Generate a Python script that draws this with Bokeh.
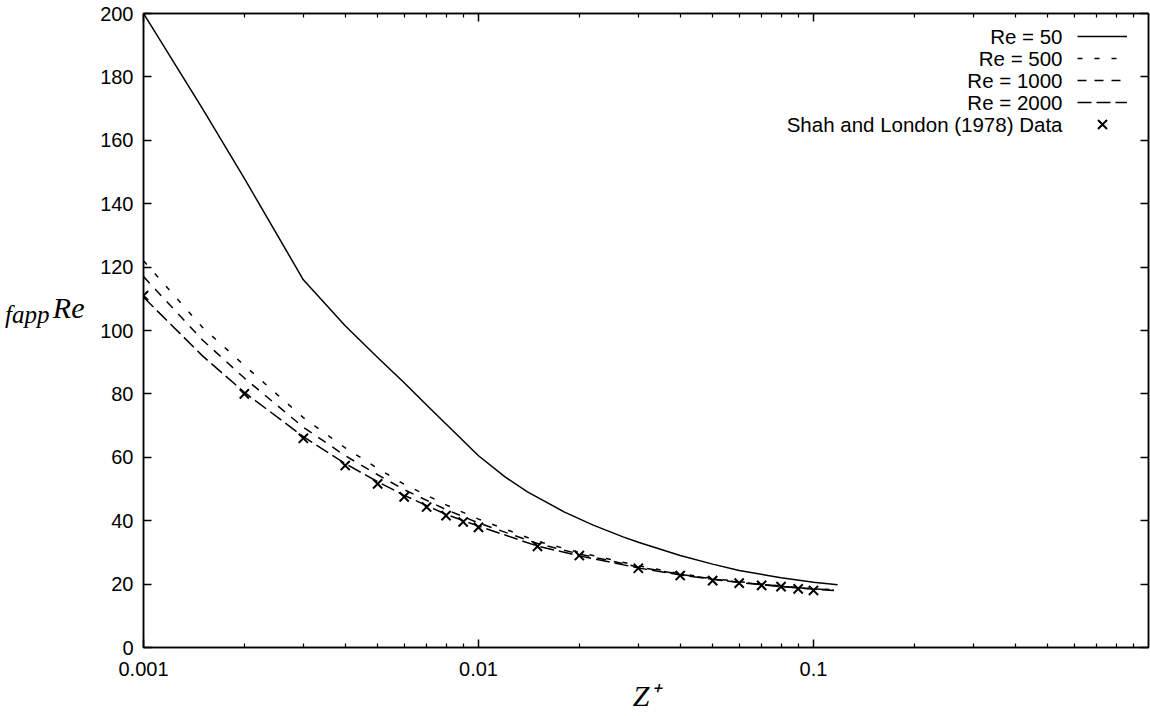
from bokeh.plotting import figure
from bokeh.models import (FixedTicker, LinearAxis, LogAxis, Range1d, Label,
                          Legend, LegendItem)
from bokeh.embed import file_html
from bokeh.resources import INLINE

# Apparent friction factor times Reynolds number along a circular duct
z_re50 = [0.001, 0.0015, 0.002, 0.003, 0.004, 0.005, 0.006, 0.007, 0.008,
          0.01, 0.012, 0.014, 0.018, 0.022, 0.027, 0.03, 0.04, 0.05, 0.06,
          0.08, 0.1, 0.118]
f_re50 = [200, 170, 148, 116, 101.5, 91.5, 83.5, 76.5, 70.5,
          60.5, 53.8, 49.1, 42.8, 38.6, 34.9, 33.2, 29.0, 26.3, 24.3,
          22.0, 20.6, 19.8]

z_dev = [0.001, 0.0015, 0.002, 0.003, 0.004, 0.005, 0.006, 0.008, 0.01,
         0.015, 0.02, 0.03, 0.04, 0.05, 0.06, 0.08, 0.1, 0.115]
f_re500 = [122, 101, 89, 72.5, 63, 56.5, 51.5, 45, 40.5,
           33.5, 30.0, 25.8, 23.3, 21.8, 20.8, 19.4, 18.6, 18.2]
f_re1000 = [117, 97, 85, 69.5, 60.5, 54.5, 49.8, 43.5, 39.3,
            32.8, 29.5, 25.4, 23.1, 21.6, 20.6, 19.3, 18.5, 18.1]
f_re2000 = [110.5, 92, 80.5, 66.5, 58, 52.3, 48, 42, 38.3,
            32.0, 28.9, 25.1, 22.9, 21.5, 20.5, 19.2, 18.4, 18.0]

# Shah and London (1978) reference values
z_shah = [0.001, 0.002, 0.003, 0.004, 0.005, 0.006, 0.007, 0.008, 0.009, 0.01,
          0.015, 0.02, 0.03, 0.04, 0.05, 0.06, 0.07, 0.08, 0.09, 0.1]
f_shah = [111, 80.0, 66.0, 57.4, 51.6, 47.5, 44.3, 41.6, 39.6, 37.9,
          31.9, 29.0, 25.0, 22.7, 21.1, 20.3, 19.6, 19.2, 18.5, 18.0]

x_major = [0.001, 0.01, 0.1]
x_major_labels = ["0.001", "0.01", "0.1"]
x_minor = [k * 10.0 ** e for e in (-3, -2, -1) for k in range(2, 10)]
y_major = list(range(0, 201, 20))

legend_labels = ["Re = 50", "Re = 500", "Re = 1000", "Re = 2000",
                 "Shah and London (1978) Data"]

TICK_FONT = "Liberation Sans"
SERIF = "Liberation Serif"

p = figure(width=1150, height=716, x_axis_type="log",
           x_range=Range1d(0.001, 1.0), y_range=Range1d(0, 200),
           output_backend="svg", toolbar_location=None,
           min_border_left=143, min_border_right=2,
           min_border_top=13, min_border_bottom=69)
p.grid.visible = False
p.outline_line_color = "black"
p.outline_line_width = 1.5
p.background_fill_color = "white"
p.border_fill_color = "white"

x_ticker = FixedTicker(ticks=x_major, minor_ticks=x_minor)
y_ticker = FixedTicker(ticks=y_major)


def style_axis(ax, show_labels):
    ax.axis_line_color = "black"
    ax.axis_line_width = 1.5
    ax.major_tick_in = 8
    ax.major_tick_out = 0
    ax.minor_tick_in = 4
    ax.minor_tick_out = 0
    ax.major_tick_line_width = 1.5
    ax.minor_tick_line_width = 1.2
    ax.major_tick_line_color = "black"
    ax.minor_tick_line_color = "black"
    ax.major_label_text_font = TICK_FONT
    ax.major_label_text_font_size = "20px" if show_labels else "0px"
    ax.major_label_text_color = "black"
    if not show_labels:
        ax.major_label_standoff = 0


def title_axis(ax, size, standoff):
    # an axis that only carries one piece of title text
    ax.axis_line_color = None
    ax.major_tick_line_color = None
    ax.minor_tick_line_color = None
    ax.major_tick_in = 0
    ax.major_tick_out = 0
    ax.major_label_standoff = standoff
    ax.major_label_text_font = SERIF
    ax.major_label_text_font_style = "italic"
    ax.major_label_text_font_size = size
    ax.major_label_text_color = "black"


xb = p.xaxis[0]
xb.ticker = x_ticker
xb.major_label_overrides = dict(zip(x_major, x_major_labels))
style_axis(xb, True)
xb.major_label_standoff = 14
xb.axis_label = "Z\u207a"
xb.axis_label_text_font = SERIF
xb.axis_label_text_font_style = "italic"
xb.axis_label_text_font_size = "30px"
xb.axis_label_text_color = "black"
xb.axis_label_standoff = 0

yl = p.yaxis[0]
yl.ticker = y_ticker
style_axis(yl, True)
yl.minor_tick_line_color = None
yl.major_label_standoff = 10

# y title "fapp Re" with the "Re" part raised, carried by two outer axes
re_pos = 107.3
fapp_pos = 105.0
ya_re = LinearAxis(ticker=FixedTicker(ticks=[re_pos]),
                   major_label_overrides={re_pos: "Re"})
title_axis(ya_re, "30px", 13)
p.add_layout(ya_re, "left")
ya_fapp = LinearAxis(ticker=FixedTicker(ticks=[fapp_pos]),
                     major_label_overrides={fapp_pos: "fapp"})
title_axis(ya_fapp, "25px", 0)
p.add_layout(ya_fapp, "left")

xt = LogAxis(ticker=x_ticker,
             major_label_overrides={t: "" for t in x_major})
style_axis(xt, False)
p.add_layout(xt, "above")

yr = LinearAxis(ticker=y_ticker,
                major_label_overrides={t: "" for t in y_major})
style_axis(yr, False)
yr.minor_tick_line_color = None
p.add_layout(yr, "right")

r50 = p.line(z_re50, f_re50, line_color="black", line_width=1.5)
r500 = p.line(z_dev, f_re500, line_color="black", line_width=1.5,
              line_dash="5 12")
r1000 = p.line(z_dev, f_re1000, line_color="black", line_width=1.5,
               line_dash="9 8")
r2000 = p.line(z_dev, f_re2000, line_color="black", line_width=1.5,
               line_dash="14 5")
rshah = p.scatter(z_shah, f_shah, marker="x", size=13, line_color="black",
                  line_width=2)

# Legend: glyph samples on the right, right-aligned text to their left
frame_left = 143
frame_bottom = 647
legend_top = 25
row_pitch = 22
sample_left = 1077
text_right = 1062
line_rows = 4
marker_row_height = 32

legend_common = dict(glyph_width=50, label_width=0, label_standoff=0,
                     spacing=0, padding=0, margin=0, border_line_color=None,
                     background_fill_alpha=0, label_text_font_size="1px")

line_legend = Legend(
    items=[LegendItem(label=" ", renderers=[r]) for r in
           (r50, r500, r1000, r2000)],
    location=(sample_left - frame_left,
              frame_bottom - (legend_top + line_rows * row_pitch)),
    glyph_height=row_pitch, label_height=row_pitch, **legend_common)
p.add_layout(line_legend)

marker_center = legend_top + line_rows * row_pitch + row_pitch / 2
marker_legend = Legend(
    items=[LegendItem(label=" ", renderers=[rshah])],
    location=(sample_left - frame_left,
              frame_bottom - (marker_center + marker_row_height / 2)),
    glyph_height=marker_row_height, label_height=marker_row_height,
    **legend_common)
p.add_layout(marker_legend)

for i, txt in enumerate(legend_labels):
    cy = legend_top + row_pitch * i + row_pitch / 2
    p.add_layout(Label(x=text_right - frame_left, y=frame_bottom - cy,
                       x_units="screen", y_units="screen", text=txt,
                       text_align="right", text_baseline="middle",
                       text_font=TICK_FONT, text_font_size="20.5px",
                       text_color="black"))

open("out.html", "w").write(file_html(p, INLINE))
